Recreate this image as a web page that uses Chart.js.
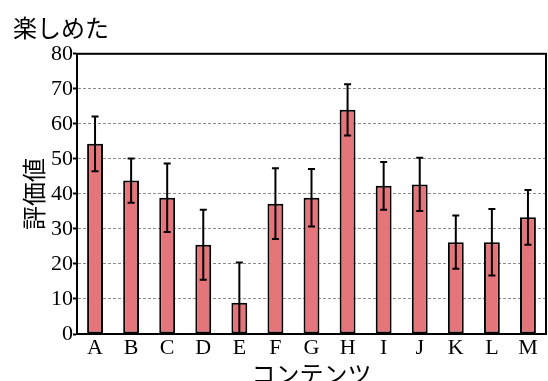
<!DOCTYPE html>
<html>
<head>
<meta charset="utf-8">
<script src="https://cdn.jsdelivr.net/npm/chart.js@4/dist/chart.umd.min.js"></script>
<style>
  html, body { margin: 0; padding: 0; background: #fff; }
  #wrap { width: 548px; height: 381px; }
</style>
</head>
<body>
<div id="wrap"><canvas id="c" width="548" height="381"></canvas></div>
<script>
// Content categories and their mean scores with error margins
const categories = ['A','B','C','D','E','F','G','H','I','J','K','L','M'];
const scores = [54.3, 43.8, 38.9, 25.5, 8.9, 37.2, 38.9, 64.0, 42.3, 42.7, 26.2, 26.2, 33.3];
const errors = [7.8, 6.3, 9.8, 10.0, 11.5, 10.1, 8.2, 7.3, 6.8, 7.6, 7.6, 9.5, 7.8];
const yTicks = [0, 10, 20, 30, 40, 50, 60, 70, 80];

const serif = '"Liberation Serif", "Times New Roman", serif';
const cjk = '"Noto Sans CJK JP", sans-serif';

// Error bars drawn on top of each bar through the y scale
const errorBars = {
  id: 'errorBars',
  afterDatasetsDraw(chart) {
    const { ctx, chartArea } = chart;
    const y = chart.scales.y;
    const meta = chart.getDatasetMeta(0);
    ctx.save();
    ctx.beginPath();
    ctx.rect(chartArea.left, chartArea.top, chartArea.right - chartArea.left, chartArea.bottom - chartArea.top);
    ctx.clip();
    ctx.strokeStyle = '#000';
    ctx.lineWidth = 2;
    meta.data.forEach((bar, i) => {
      const x = bar.x;
      const top = y.getPixelForValue(scores[i] + errors[i]);
      const bot = y.getPixelForValue(scores[i] - errors[i]);
      const cap = 3.5;
      ctx.beginPath();
      ctx.moveTo(x, top); ctx.lineTo(x, bot);
      ctx.moveTo(x - cap, top); ctx.lineTo(x + cap, top);
      ctx.moveTo(x - cap, bot); ctx.lineTo(x + cap, bot);
      ctx.stroke();
    });
    ctx.restore();
  }
};

// Closed frame around the plot area
const frame = {
  id: 'frame',
  afterDraw(chart) {
    const { ctx, chartArea: a } = chart;
    ctx.save();
    ctx.strokeStyle = '#000';
    ctx.lineWidth = 2;
    ctx.strokeRect(a.left, a.top, a.right - a.left, a.bottom - a.top);
    ctx.restore();
  }
};

new Chart(document.getElementById('c'), {
  type: 'bar',
  data: {
    labels: categories,
    datasets: [{
      data: scores,
      backgroundColor: '#e4757a',
      borderColor: '#000',
      borderWidth: 2,
      borderSkipped: false,
      barPercentage: 0.44,
      categoryPercentage: 1
    }]
  },
  options: {
    responsive: false,
    animation: false,
    layout: { padding: { left: 13, right: 2, top: 0, bottom: 0 } },
    plugins: {
      legend: { display: false },
      tooltip: { enabled: false },
      title: {
        display: true,
        text: '楽しめた',
        align: 'start',
        color: '#000',
        font: { family: cjk, size: 24, weight: 'normal' },
        padding: { top: 13, bottom: 12 }
      }
    },
    scales: {
      x: {
        grid: { display: false, drawTicks: false },
        border: { display: true, color: '#000', width: 2 },
        ticks: { color: '#000', font: { family: serif, size: 22 }, padding: 1, maxRotation: 0 },
        title: {
          display: true,
          text: 'コンテンツ',
          color: '#000',
          font: { family: cjk, size: 24, lineHeight: 1 },
          padding: { top: 0, bottom: -5 }
        },
        afterFit(scale) { scale.height = 47; }
      },
      y: {
        min: 0,
        max: 80,
        afterBuildTicks(scale) { scale.ticks = yTicks.map(v => ({ value: v })); },
        grid: {
          color: (c) => (c.tick && (c.tick.value === 0 || c.tick.value === 80)) ? 'rgba(0,0,0,0)' : '#8c8c8c',
          lineWidth: 1,
          drawTicks: true,
          tickLength: 4,
          tickColor: '#000',
          tickWidth: 2,
          tickBorderDash: [],
          tickBorderDashOffset: 0
        },
        border: { display: true, color: '#000', width: 2, dash: [3, 2] },
        ticks: { color: '#000', font: { family: serif, size: 22 }, padding: 0 },
        title: {
          display: true,
          text: '評価値',
          color: '#000',
          font: { family: cjk, size: 24 },
          padding: { top: 6, bottom: 0 }
        },
        afterFit(scale) { scale.width = 64; }
      }
    }
  },
  plugins: [errorBars, frame]
});
</script>
</body>
</html>
